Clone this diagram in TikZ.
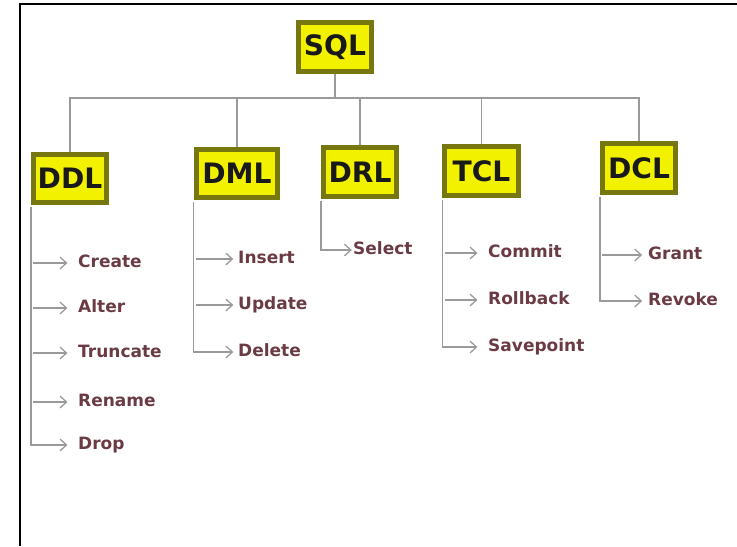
\documentclass[tikz,border=0pt]{standalone}
\usepackage{fontspec}
\setmainfont{DejaVu Sans}
\usepackage{xcolor}
\usepackage{tikz}
\usetikzlibrary{positioning,calc,arrows.meta}

\definecolor{boxyellow}{HTML}{F2F200}
\definecolor{boxedge}{HTML}{77770F}
\definecolor{linegray}{HTML}{9A9A9A}
\definecolor{itemtext}{HTML}{6B3B45}

\begin{document}
\begin{tikzpicture}[
    x=0.03cm, y=-0.03cm,
    lang/.style={draw=boxedge, fill=boxyellow, line width=4pt, font=\fontsize{24}{28}\selectfont\bfseries, text=black!90, minimum width=2.2cm, minimum height=1.45cm, inner sep=2pt},
    leaf/.style={anchor=west, inner sep=0pt, font=\fontsize{14.5}{17}\selectfont\bfseries, text=itemtext, text height=1.35ex, text depth=0pt},
    link/.style={draw=linegray, line width=1.2pt},
    branch/.style={draw=linegray, line width=1.1pt, -{Straight Barb[length=5.5pt,width=10pt,line width=1.1pt]}, shorten <=2pt, shorten >=#1},
    branch/.default=9pt
]
\useasboundingbox (0,0) rectangle (737,546);

% frame
\draw[line width=1.5pt] (20,546) -- (20,4) -- (737,4);

% ---- top ----
\node[lang] (sql) at (335,47) {SQL};
\coordinate (bus) at (335,98);

% ---- languages ----
\node[lang] (ddl) at (70,178.5) {DDL};
\node[lang, minimum width=2.45cm] (dml) at (237,173.5) {DML};
\node[lang] (drl) at (360,172) {DRL};
\node[lang] (tcl) at (481.5,171) {TCL};
\node[lang] (dcl) at (639,168) {DCL};

% ---- DDL items ----
\node[leaf] (create) at (78,263) {Create};
\node[leaf] (alter) at (78,308) {Alter};
\node[leaf] (truncate) at (78,353) {Truncate};
\node[leaf] (rename) at (78,402) {Rename};
\node[leaf] (drop) at (78,445) {Drop};

% ---- DML items ----
\node[leaf] (insert) at (238,259) {Insert};
\node[leaf] (update) at (238,305) {Update};
\node[leaf] (delete) at (238,352) {Delete};

% ---- DRL items ----
\node[leaf] (select) at (353,250) {Select};

% ---- TCL items ----
\node[leaf] (commit) at (488,253) {Commit};
\node[leaf] (rollback) at (488,300) {Rollback};
\node[leaf] (savepoint) at (488,347) {Savepoint};

% ---- DCL items ----
\node[leaf] (grant) at (648,255) {Grant};
\node[leaf] (revoke) at (648,301) {Revoke};

% Tree
\draw[link] (sql.south) -- (bus);
\draw[link] (bus) -| (ddl.north);
\draw[link] (bus) -| (dml.north);
\draw[link] (bus) -| (drl.north);
\draw[link] (bus) -| (tcl.north);
\draw[link] (bus) -| (dcl.north);

% Lists
\draw[branch] (ddl.south west) |- (drop.west);
\draw[branch] (ddl.south west |- create.west) -- (create.west);
\draw[branch] (ddl.south west |- alter.west) -- (alter.west);
\draw[branch] (ddl.south west |- truncate.west) -- (truncate.west);
\draw[branch] (ddl.south west |- rename.west) -- (rename.west);

\draw[branch=4pt] (dml.south west) |- (delete.west);
\draw[branch=4pt] (dml.south west |- insert.west) -- (insert.west);
\draw[branch=4pt] (dml.south west |- update.west) -- (update.west);

\draw[branch=1pt] (drl.south west) |- (select.west);

\draw[branch] (tcl.south west) |- (savepoint.west);
\draw[branch] (tcl.south west |- commit.west) -- (commit.west);
\draw[branch] (tcl.south west |- rollback.west) -- (rollback.west);

\draw[branch=5pt] (dcl.south west) |- (revoke.west);
\draw[branch=5pt] (dcl.south west |- grant.west) -- (grant.west);
\end{tikzpicture}
\end{document}
